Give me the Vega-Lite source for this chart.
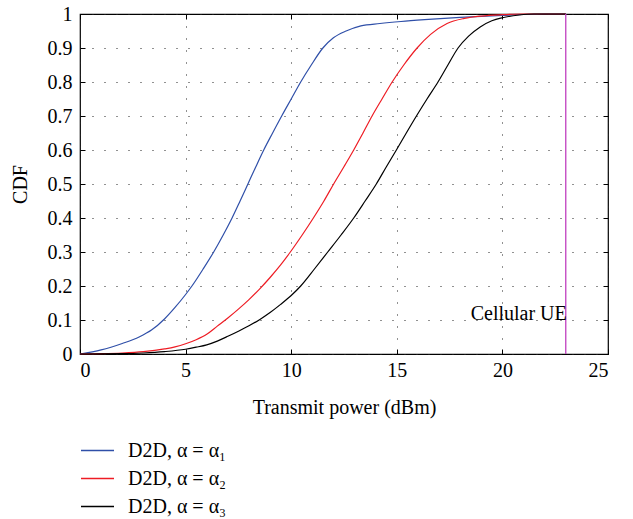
{
  "$schema": "https://vega.github.io/schema/vega-lite/v6.json",
  "width": 528,
  "height": 340,
  "autosize": {"type": "none"},
  "padding": {"left": 80, "top": 14, "right": 25, "bottom": 165},
  "background": "white",
  "config": {
    "font": "Liberation Serif",
    "view": {"stroke": "black", "strokeWidth": 1.2},
    "axis": {
      "labelFont": "Liberation Serif",
      "titleFont": "Liberation Serif",
      "labelFontSize": 20,
      "titleFontSize": 20,
      "titleFontWeight": "normal",
      "labelColor": "black",
      "titleColor": "black",
      "domain": false,
      "tickColor": "black",
      "tickSize": -5,
      "tickWidth": 1
    },
    "legend": {
      "labelFont": "Liberation Serif",
      "labelFontSize": 20,
      "labelColor": "black"
    }
  },
  "datasets": {
    "cdf": [
      {"power": 0, "cdf": 0, "series": "D2D, α = α₁"},
      {"power": 1, "cdf": 0.012, "series": "D2D, α = α₁"},
      {"power": 2, "cdf": 0.031, "series": "D2D, α = α₁"},
      {"power": 2.8, "cdf": 0.05, "series": "D2D, α = α₁"},
      {"power": 3.4, "cdf": 0.071, "series": "D2D, α = α₁"},
      {"power": 4, "cdf": 0.103, "series": "D2D, α = α₁"},
      {"power": 4.5, "cdf": 0.137, "series": "D2D, α = α₁"},
      {"power": 5, "cdf": 0.175, "series": "D2D, α = α₁"},
      {"power": 5.3, "cdf": 0.2, "series": "D2D, α = α₁"},
      {"power": 5.83, "cdf": 0.25, "series": "D2D, α = α₁"},
      {"power": 6.33, "cdf": 0.3, "series": "D2D, α = α₁"},
      {"power": 6.78, "cdf": 0.35, "series": "D2D, α = α₁"},
      {"power": 7.2, "cdf": 0.4, "series": "D2D, α = α₁"},
      {"power": 7.58, "cdf": 0.45, "series": "D2D, α = α₁"},
      {"power": 7.95, "cdf": 0.5, "series": "D2D, α = α₁"},
      {"power": 8.32, "cdf": 0.55, "series": "D2D, α = α₁"},
      {"power": 8.7, "cdf": 0.6, "series": "D2D, α = α₁"},
      {"power": 9.12, "cdf": 0.65, "series": "D2D, α = α₁"},
      {"power": 9.55, "cdf": 0.7, "series": "D2D, α = α₁"},
      {"power": 10.0, "cdf": 0.75, "series": "D2D, α = α₁"},
      {"power": 10.45, "cdf": 0.8, "series": "D2D, α = α₁"},
      {"power": 10.95, "cdf": 0.85, "series": "D2D, α = α₁"},
      {"power": 11.5, "cdf": 0.9, "series": "D2D, α = α₁"},
      {"power": 12.0, "cdf": 0.93, "series": "D2D, α = α₁"},
      {"power": 12.6, "cdf": 0.95, "series": "D2D, α = α₁"},
      {"power": 13.3, "cdf": 0.965, "series": "D2D, α = α₁"},
      {"power": 14.2, "cdf": 0.972, "series": "D2D, α = α₁"},
      {"power": 15.2, "cdf": 0.978, "series": "D2D, α = α₁"},
      {"power": 16.5, "cdf": 0.984, "series": "D2D, α = α₁"},
      {"power": 18, "cdf": 0.99, "series": "D2D, α = α₁"},
      {"power": 20, "cdf": 0.996, "series": "D2D, α = α₁"},
      {"power": 22, "cdf": 1, "series": "D2D, α = α₁"},
      {"power": 23, "cdf": 1, "series": "D2D, α = α₁"},

      {"power": 0, "cdf": 0, "series": "D2D, α = α₂"},
      {"power": 1, "cdf": 0.001, "series": "D2D, α = α₂"},
      {"power": 2, "cdf": 0.003, "series": "D2D, α = α₂"},
      {"power": 3, "cdf": 0.007, "series": "D2D, α = α₂"},
      {"power": 4, "cdf": 0.015, "series": "D2D, α = α₂"},
      {"power": 4.5, "cdf": 0.021, "series": "D2D, α = α₂"},
      {"power": 5, "cdf": 0.03, "series": "D2D, α = α₂"},
      {"power": 5.5, "cdf": 0.042, "series": "D2D, α = α₂"},
      {"power": 6, "cdf": 0.058, "series": "D2D, α = α₂"},
      {"power": 6.5, "cdf": 0.082, "series": "D2D, α = α₂"},
      {"power": 7, "cdf": 0.106, "series": "D2D, α = α₂"},
      {"power": 7.5, "cdf": 0.132, "series": "D2D, α = α₂"},
      {"power": 8, "cdf": 0.16, "series": "D2D, α = α₂"},
      {"power": 8.5, "cdf": 0.191, "series": "D2D, α = α₂"},
      {"power": 9, "cdf": 0.225, "series": "D2D, α = α₂"},
      {"power": 9.5, "cdf": 0.262, "series": "D2D, α = α₂"},
      {"power": 9.96, "cdf": 0.3, "series": "D2D, α = α₂"},
      {"power": 10.52, "cdf": 0.35, "series": "D2D, α = α₂"},
      {"power": 11.05, "cdf": 0.4, "series": "D2D, α = α₂"},
      {"power": 11.55, "cdf": 0.45, "series": "D2D, α = α₂"},
      {"power": 12.01, "cdf": 0.5, "series": "D2D, α = α₂"},
      {"power": 12.49, "cdf": 0.55, "series": "D2D, α = α₂"},
      {"power": 12.96, "cdf": 0.6, "series": "D2D, α = α₂"},
      {"power": 13.4, "cdf": 0.65, "series": "D2D, α = α₂"},
      {"power": 13.83, "cdf": 0.7, "series": "D2D, α = α₂"},
      {"power": 14.3, "cdf": 0.75, "series": "D2D, α = α₂"},
      {"power": 14.78, "cdf": 0.8, "series": "D2D, α = α₂"},
      {"power": 15.33, "cdf": 0.85, "series": "D2D, α = α₂"},
      {"power": 15.96, "cdf": 0.9, "series": "D2D, α = α₂"},
      {"power": 16.6, "cdf": 0.94, "series": "D2D, α = α₂"},
      {"power": 17.38, "cdf": 0.972, "series": "D2D, α = α₂"},
      {"power": 18.2, "cdf": 0.987, "series": "D2D, α = α₂"},
      {"power": 19, "cdf": 0.994, "series": "D2D, α = α₂"},
      {"power": 20, "cdf": 0.998, "series": "D2D, α = α₂"},
      {"power": 21, "cdf": 1, "series": "D2D, α = α₂"},
      {"power": 23, "cdf": 1, "series": "D2D, α = α₂"},

      {"power": 0, "cdf": 0, "series": "D2D, α = α₃"},
      {"power": 2, "cdf": 0.001, "series": "D2D, α = α₃"},
      {"power": 3, "cdf": 0.003, "series": "D2D, α = α₃"},
      {"power": 4, "cdf": 0.007, "series": "D2D, α = α₃"},
      {"power": 5, "cdf": 0.014, "series": "D2D, α = α₃"},
      {"power": 5.5, "cdf": 0.02, "series": "D2D, α = α₃"},
      {"power": 6, "cdf": 0.027, "series": "D2D, α = α₃"},
      {"power": 6.5, "cdf": 0.038, "series": "D2D, α = α₃"},
      {"power": 7, "cdf": 0.052, "series": "D2D, α = α₃"},
      {"power": 7.5, "cdf": 0.067, "series": "D2D, α = α₃"},
      {"power": 8, "cdf": 0.083, "series": "D2D, α = α₃"},
      {"power": 8.5, "cdf": 0.101, "series": "D2D, α = α₃"},
      {"power": 9, "cdf": 0.122, "series": "D2D, α = α₃"},
      {"power": 9.5, "cdf": 0.146, "series": "D2D, α = α₃"},
      {"power": 10, "cdf": 0.172, "series": "D2D, α = α₃"},
      {"power": 10.45, "cdf": 0.2, "series": "D2D, α = α₃"},
      {"power": 11.1, "cdf": 0.25, "series": "D2D, α = α₃"},
      {"power": 11.73, "cdf": 0.3, "series": "D2D, α = α₃"},
      {"power": 12.36, "cdf": 0.35, "series": "D2D, α = α₃"},
      {"power": 12.96, "cdf": 0.4, "series": "D2D, α = α₃"},
      {"power": 13.5, "cdf": 0.45, "series": "D2D, α = α₃"},
      {"power": 14.03, "cdf": 0.5, "series": "D2D, α = α₃"},
      {"power": 14.5, "cdf": 0.55, "series": "D2D, α = α₃"},
      {"power": 14.98, "cdf": 0.6, "series": "D2D, α = α₃"},
      {"power": 15.45, "cdf": 0.65, "series": "D2D, α = α₃"},
      {"power": 15.93, "cdf": 0.7, "series": "D2D, α = α₃"},
      {"power": 16.43, "cdf": 0.75, "series": "D2D, α = α₃"},
      {"power": 16.95, "cdf": 0.8, "series": "D2D, α = α₃"},
      {"power": 17.42, "cdf": 0.85, "series": "D2D, α = α₃"},
      {"power": 17.9, "cdf": 0.9, "series": "D2D, α = α₃"},
      {"power": 18.4, "cdf": 0.935, "series": "D2D, α = α₃"},
      {"power": 18.95, "cdf": 0.962, "series": "D2D, α = α₃"},
      {"power": 19.5, "cdf": 0.98, "series": "D2D, α = α₃"},
      {"power": 20, "cdf": 0.989, "series": "D2D, α = α₃"},
      {"power": 20.8, "cdf": 0.997, "series": "D2D, α = α₃"},
      {"power": 21.5, "cdf": 1, "series": "D2D, α = α₃"},
      {"power": 23, "cdf": 1, "series": "D2D, α = α₃"}
    ],
    "ue": [{"power": 23, "lo": 0, "hi": 1, "label": "Cellular UE", "labelY": 0.1}]
  },
  "layer": [
    {
      "data": {"name": "cdf"},
      "mark": {"type": "line", "strokeWidth": 1.2, "interpolate": "monotone"},
      "encoding": {
        "x": {
          "field": "power", "type": "quantitative",
          "scale": {"domain": [0, 25], "nice": false, "zero": false},
          "axis": {
            "orient": "bottom", "title": "Transmit power (dBm)",
            "values": [0, 5, 10, 15, 20, 25],
            "grid": true, "gridColor": "#222", "gridDash": [1, 11], "gridWidth": 1,
            "labelPadding": 11, "titlePadding": 17
          }
        },
        "y": {
          "field": "cdf", "type": "quantitative",
          "scale": {"domain": [0, 1], "nice": false},
          "axis": {
            "orient": "left", "title": "CDF",
            "values": [0, 0.1, 0.2, 0.3, 0.4, 0.5, 0.6, 0.7, 0.8, 0.9, 1],
            "labelExpr": "datum.value == 0 ? '0' : datum.value == 1 ? '1' : format(datum.value, '.1f')",
            "grid": true, "gridColor": "#222", "gridDash": [1, 11], "gridWidth": 1,
            "labelPadding": 13, "titlePadding": 17
          }
        },
        "color": {
          "field": "series", "type": "nominal",
          "scale": {
            "domain": ["D2D, α = α₁", "D2D, α = α₂", "D2D, α = α₃"],
            "range": ["#2f4fa8", "#ee1c24", "#000000"]
          },
          "legend": {
            "title": null,
            "orient": "none",
            "legendX": 0,
            "legendY": 419,
            "direction": "vertical",
            "symbolType": "stroke",
            "symbolSize": 1089,
            "symbolStrokeWidth": 1.5,
            "labelOffset": 13,
            "rowPadding": -5
          }
        }
      }
    },
    {
      "data": {"name": "ue"},
      "mark": {"type": "rule", "color": "#c03fbf", "strokeWidth": 1.3},
      "encoding": {
        "x": {
          "field": "power", "type": "quantitative",
          "axis": {"orient": "top", "labels": false, "title": null, "grid": false, "values": [0, 5, 10, 15, 20, 25]}
        },
        "y": {
          "field": "lo", "type": "quantitative",
          "axis": {"orient": "right", "labels": false, "title": null, "grid": false, "values": [0, 0.1, 0.2, 0.3, 0.4, 0.5, 0.6, 0.7, 0.8, 0.9, 1]}
        },
        "y2": {"field": "hi"}
      }
    },
    {
      "data": {"name": "ue"},
      "mark": {"type": "text", "align": "right", "baseline": "alphabetic", "fontSize": 20, "font": "Liberation Serif", "color": "black", "dx": 1},
      "encoding": {
        "x": {"field": "power", "type": "quantitative", "axis": null},
        "y": {"field": "labelY", "type": "quantitative", "axis": null},
        "text": {"field": "label"}
      }
    }
  ],
  "resolve": {"axis": {"x": "independent", "y": "independent"}}
}
